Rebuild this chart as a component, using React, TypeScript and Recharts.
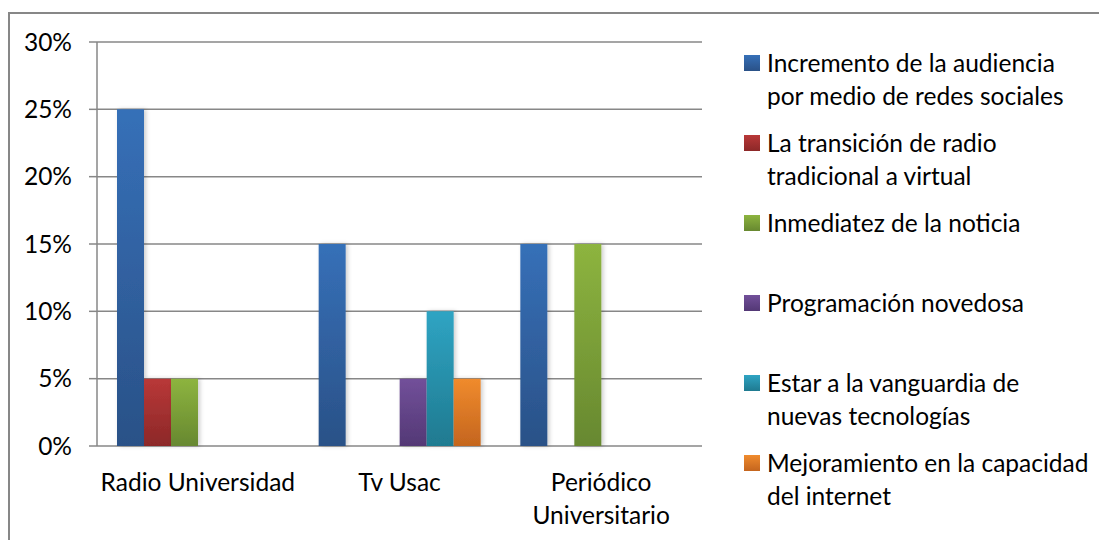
import React from "react";
import { BarChart, Bar, XAxis, YAxis, CartesianGrid, Legend, Rectangle } from "recharts";

const categories = ["Radio Universidad", "Tv Usac", "Periódico Universitario"];
const audiencia = [25, 15, 15];
const transicion = [5, 0, 0];
const inmediatez = [5, 0, 15];
const programacion = [0, 5, 0];
const vanguardia = [0, 10, 0];
const internet = [0, 5, 0];
const yTicks = [0, 5, 10, 15, 20, 25, 30];

const series = [
  { key: "audiencia", name: "Incremento de la audiencia\npor medio de redes sociales", values: audiencia, top: "#3670b8", bottom: "#2a5187" },
  { key: "transicion", name: "La transición de radio\ntradicional a virtual", values: transicion, top: "#b93838", bottom: "#8c2828" },
  { key: "inmediatez", name: "Inmediatez de la noticia", values: inmediatez, top: "#8db43f", bottom: "#678830" },
  { key: "programacion", name: "Programación novedosa", values: programacion, top: "#72509a", bottom: "#533875" },
  { key: "vanguardia", name: "Estar a la vanguardia de\nnuevas tecnologías", values: vanguardia, top: "#2fa4c3", bottom: "#1f7a90" },
  { key: "internet", name: "Mejoramiento en la capacidad\ndel internet", values: internet, top: "#f08b2d", bottom: "#c4651e" },
];

const data = categories.map((c, i) => {
  const row: any = { category: c };
  series.forEach((s) => (row[s.key] = s.values[i]));
  return row;
});

const FONT = "Lato, 'Open Sans', sans-serif";
const FONT_SIZE = 24.5;
const GRID = "#878787";

// greedy word wrap measured with a canvas
const wrapText = (text: string, maxWidth: number) => {
  const ctx = document.createElement("canvas").getContext("2d");
  if (!ctx) return [text];
  ctx.font = `${FONT_SIZE}px Lato`;
  const lines: string[] = [];
  let line = "";
  text.split(" ").forEach((w) => {
    const test = line ? `${line} ${w}` : w;
    if (line && ctx.measureText(test).width > maxWidth) {
      lines.push(line);
      line = w;
    } else {
      line = test;
    }
  });
  if (line) lines.push(line);
  return lines;
};

const CategoryTick = (props: any) => {
  const { x, y, payload } = props;
  const lines = wrapText(payload.value, 196);
  return (
    <text x={x} y={y + 45} textAnchor="middle" style={{ fontFamily: FONT, fontSize: FONT_SIZE, fill: "#000" }}>
      {lines.map((l, i) => (
        <tspan key={i} x={x} dy={i === 0 ? 0 : 33}>
          {l}
        </tspan>
      ))}
    </text>
  );
};

const LegendContent = () => (
  <div style={{ fontFamily: FONT, fontSize: FONT_SIZE, color: "#000" }}>
    {series.map((s) => (
      <div key={s.key} style={{ display: "flex", alignItems: "flex-start", height: 80 }}>
        <div
          style={{
            width: 16,
            height: 16,
            marginTop: 9,
            marginRight: 7,
            flex: "none",
            background: `linear-gradient(${s.top}, ${s.bottom})`,
          }}
        />
        <div style={{ lineHeight: "33px", whiteSpace: "pre-line" }}>{s.name}</div>
      </div>
    ))}
  </div>
);

export default function App() {
  return (
    <div style={{ position: "relative", width: 1099, height: 532 }}>
      <div
        style={{
          position: "absolute",
          left: 0,
          top: 4,
          width: 1099,
          height: 528,
          borderTop: `2px solid ${GRID}`,
          borderLeft: `2px solid ${GRID}`,
          boxSizing: "border-box",
        }}
      />
      <BarChart
        width={1099}
        height={532}
        data={data}
        margin={{ top: 34, right: 405, bottom: 33, left: 0 }}
        barCategoryGap={20}
        barGap={0}
        style={{ position: "relative" }}
      >
        <defs>
          {series.map((s) => (
            <linearGradient key={s.key} id={`grad-${s.key}`} x1="0" y1="0" x2="0" y2="1">
              <stop offset="0%" stopColor={s.top} />
              <stop offset="100%" stopColor={s.bottom} />
            </linearGradient>
          ))}
          <filter id="barShadow" x="-20%" y="-5%" width="150%" height="110%">
            <feDropShadow dx="2" dy="0" stdDeviation="2" floodColor="#000" floodOpacity="0.2" />
          </filter>
        </defs>
        <CartesianGrid vertical={false} stroke={GRID} strokeWidth={1.5} />
        <XAxis
          xAxisId="bounds"
          type="number"
          domain={[0, 3]}
          ticks={[0, 1, 2, 3]}
          allowDataOverflow
          height={1}
          tick={false}
          tickSize={8}
          axisLine={false}
          tickLine={{ stroke: GRID, strokeWidth: 1.5 }}
        />
        <XAxis
          dataKey="category"
          height={60}
          tickLine={false}
          axisLine={false}
          tickSize={0}
          tickMargin={0}
          tick={<CategoryTick />}
          interval={0}
        />
        <YAxis
          width={89}
          domain={[0, 30]}
          ticks={yTicks}
          tickFormatter={(v: number) => `${v}%`}
          tickSize={8}
          tickMargin={17}
          axisLine={{ stroke: GRID, strokeWidth: 1.5 }}
          tickLine={{ stroke: GRID, strokeWidth: 1.5 }}
          tick={{ fontFamily: FONT, fontSize: FONT_SIZE, fill: "#000" }}
        />
        {series.map((s) => (
          <Bar
            key={s.key}
            dataKey={s.key}
            name={s.name}
            fill={`url(#grad-${s.key})`}
            isAnimationActive={false}
            shape={(p: any) => <Rectangle {...p} filter="url(#barShadow)" />}
          />
        ))}
        <Legend
          layout="vertical"
          align="center"
          verticalAlign="middle"
          wrapperStyle={{ left: 736, top: 38, width: 360 }}
          content={<LegendContent />}
        />
      </BarChart>
    </div>
  );
}
